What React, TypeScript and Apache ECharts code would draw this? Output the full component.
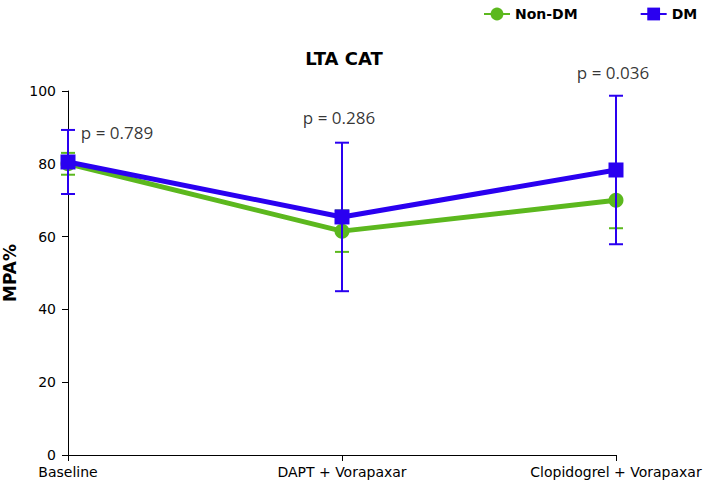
import React, { useEffect, useRef } from "react";
import * as echarts from "echarts";

const categories = ["Baseline", "DAPT + Vorapaxar", "Clopidogrel + Vorapaxar"];
const nonDM = [80, 61.5, 70];
const nonDMErr = [3, 5.7, 7.7];
const dm = [80.5, 65.4, 78.3];
const dmErr = [8.8, 20.4, 20.4];
const pValues = ["p = 0.789", "p = 0.286", "p = 0.036"];
const pY = [88.5, 92.6, 105.2];
const yTicks = [0, 20, 40, 60, 80, 100];

const GREEN = "#5cb81e";
const BLUE = "#2a00f0";

function errorSeries(name: string, means: number[], errs: number[], color: string, z: number) {
  return {
    type: "custom",
    name: name + "-err",
    z,
    silent: true,
    clip: false,
    data: means.map((m, i) => [i, m - errs[i], m + errs[i]]),
    renderItem: (params: any, api: any) => {
      const x = api.value(0);
      const lo = api.coord([x, api.value(1)]);
      const hi = api.coord([x, api.value(2)]);
      const w = 7;
      const style = { stroke: color, lineWidth: 2 };
      return {
        type: "group",
        children: [
          { type: "line", shape: { x1: lo[0], y1: lo[1], x2: hi[0], y2: hi[1] }, style },
          { type: "line", shape: { x1: lo[0] - w, y1: lo[1], x2: lo[0] + w, y2: lo[1] }, style },
          { type: "line", shape: { x1: hi[0] - w, y1: hi[1], x2: hi[0] + w, y2: hi[1] }, style },
        ],
      };
    },
  };
}

export default function App() {
  const ref = useRef<HTMLDivElement>(null);
  useEffect(() => {
    if (!ref.current) return;
    const chart = echarts.init(ref.current, undefined, { renderer: "svg" });
    chart.setOption({
      animation: false,
      title: {
        text: "LTA CAT",
        left: 339,
        top: 44,
        textAlign: "center",
        textStyle: { fontFamily: "DejaVu Sans", fontWeight: "bold", fontSize: 18, color: "#000" },
      },
      legend: {
        data: ["Non-DM", "DM"],
        left: 478,
        top: 2,
        itemGap: 62,
        itemWidth: 26,
        itemHeight: 16,
        textStyle: { fontFamily: "DejaVu Sans", fontWeight: "bold", fontSize: 14, color: "#000" },
      },
      grid: { left: 68, right: 103, top: 91, bottom: 32, containLabel: false, outerBoundsMode: "none" },
      xAxis: {
        type: "category",
        data: categories,
        boundaryGap: false,
        axisLine: { lineStyle: { color: "#000", width: 1 } },
        axisTick: { alignWithLabel: true, length: 6, lineStyle: { color: "#000" } },
        axisLabel: { fontFamily: "DejaVu Sans", fontSize: 14, color: "#000", margin: 10 },
      },
      yAxis: {
        type: "value",
        min: 0,
        max: 100,
        interval: 20,
        name: "MPA%",
        nameLocation: "middle",
        nameGap: 48,
        nameRotate: 90,
        nameTextStyle: { fontFamily: "DejaVu Sans", fontWeight: "bold", fontSize: 17, color: "#000" },
        axisLine: { show: true, lineStyle: { color: "#000", width: 1 } },
        axisTick: { show: true, length: 6, lineStyle: { color: "#000" } },
        splitLine: { show: false },
        axisLabel: {
          fontFamily: "DejaVu Sans",
          fontSize: 14,
          color: "#000",
          margin: 12,
          formatter: (v: number) => (yTicks.includes(v) ? String(v) : ""),
        },
      },
      series: [
        errorSeries("Non-DM", nonDM, nonDMErr, GREEN, 1),
        {
          type: "line",
          name: "Non-DM",
          data: nonDM,
          z: 2,
          symbol: "circle",
          symbolSize: 15,
          lineStyle: { color: GREEN, width: 5 },
          itemStyle: { color: GREEN },
        },
        {
          type: "line",
          name: "DM",
          data: dm,
          z: 3,
          symbol: "rect",
          symbolSize: 15,
          lineStyle: { color: BLUE, width: 5 },
          itemStyle: { color: BLUE },
        },
        errorSeries("DM", dm, dmErr, BLUE, 4),
        {
          type: "scatter",
          name: "p",
          symbolSize: 0,
          silent: true,
          clip: false,
          z: 5,
          data: pValues.map((p, i) => ({ value: [i, pY[i]], name: p })),
          label: {
            show: true,
            formatter: (p: any) => p.name,
            position: "inside",
            fontFamily: "Open Sans",
            fontSize: 17,
            color: "#000",
          },
          labelLayout: (params: any) => {
            return params.dataIndex === 0 ? { dx: 49 } : { dx: -3 };
          },
        },
      ],
    });
    return () => chart.dispose();
  }, []);
  return <div ref={ref} style={{ width: 719, height: 487, position: "absolute", left: 0, top: 0 }} />;
}
